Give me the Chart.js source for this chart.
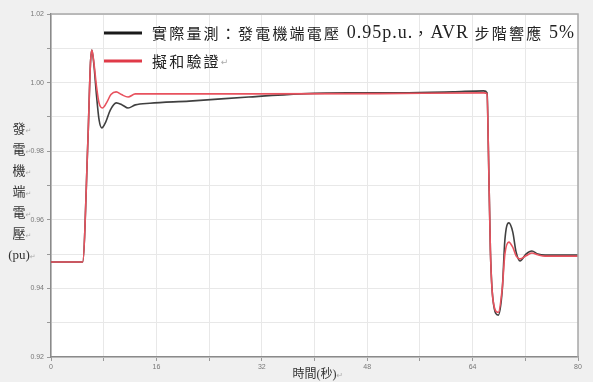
<!DOCTYPE html>
<html>
<head>
<meta charset="utf-8">
<script src="https://cdn.jsdelivr.net/npm/chart.js@4"></script>
<style>
  html, body { margin: 0; padding: 0; background: #f0f0f0; }
  #wrap { width: 593px; height: 382px; }
</style>
</head>
<body>
<div id="wrap"><canvas id="avrChart" width="593" height="382"></canvas></div>
<script>
// 實際量測 (black)
const measTime = [0, 4.8, 5.6, 6.0, 6.2, 6.5, 6.9, 7.3, 7.7, 8.3, 9.0, 9.9, 10.8, 11.7, 12.8, 15, 21, 30, 38, 45, 53, 61, 65.7, 66.2, 66.4, 66.7, 67.1, 67.9, 68.5, 68.9, 69.5, 70.1, 70.6, 71.2, 72.1, 73.0, 73.9, 75, 80];
const measVolt = [0.9477, 0.9477, 0.9830, 1.0060, 1.0095, 1.0055, 0.9964, 0.9891, 0.9868, 0.9885, 0.9920, 0.9941, 0.9935, 0.9926, 0.9935, 0.9940, 0.9946, 0.9958, 0.9967, 0.9970, 0.9970, 0.9973, 0.9976, 0.9970, 0.9803, 0.9512, 0.9366, 0.9322, 0.9395, 0.9541, 0.9591, 0.9564, 0.9506, 0.9480, 0.9500, 0.9509, 0.9500, 0.9497, 0.9497];

// 擬和驗證 (red)
const simTime = [0, 4.8, 5.6, 6.0, 6.2, 6.5, 6.9, 7.3, 7.8, 8.4, 9.1, 9.9, 10.7, 11.7, 12.8, 15, 30, 50, 65.7, 66.2, 66.4, 66.7, 67.1, 67.9, 68.5, 68.9, 69.5, 70.1, 70.6, 71.2, 72.1, 73.0, 73.9, 75, 80];
const simVolt = [0.9477, 0.9477, 0.9830, 1.0060, 1.0095, 1.0060, 0.9990, 0.9940, 0.9926, 0.9940, 0.9965, 0.9973, 0.9965, 0.9958, 0.9967, 0.9967, 0.9967, 0.9968, 0.9970, 0.9968, 0.9803, 0.9512, 0.9366, 0.9330, 0.9400, 0.9500, 0.9535, 0.9520, 0.9495, 0.9486, 0.9495, 0.9503, 0.9498, 0.9494, 0.9494];

const legendTexts = ['實際量測：發電機端電壓 0.95p.u.，AVR 步階響應 5%', '擬和驗證'];
const yTitleChars = ['發', '電', '機', '端', '電', '壓', '(pu)'];
const xTitle = '時間(秒)';

const toPoints = (xs, ys) => xs.map((x, i) => ({ x: x, y: ys[i] }));

// white plot area + grey frame
const plotBg = {
    id: 'plotBg',
    beforeDraw(chart) {
        const { ctx, chartArea: a } = chart;
        ctx.save();
        ctx.fillStyle = '#ffffff';
        ctx.fillRect(a.left, a.top, a.right - a.left, a.bottom - a.top);
        ctx.restore();
    },
    afterDraw(chart) {
        const { ctx, chartArea: a } = chart;
        ctx.save();
        ctx.strokeStyle = '#a8a8a8';
        ctx.lineWidth = 1.5;
        ctx.beginPath();
        ctx.moveTo(a.left, a.top);
        ctx.lineTo(a.right, a.top);
        ctx.lineTo(a.right, a.bottom);
        ctx.stroke();
        ctx.restore();
    }
};

// little Word return marks after a piece of text
function returnMark(ctx, x, y, size) {
    ctx.save();
    ctx.letterSpacing = '0px';
    ctx.textAlign = 'left';
    ctx.fillStyle = '#aaa';
    ctx.font = size + 'px "DejaVu Sans"';
    ctx.fillText('↵', x, y);
    ctx.restore();
}

// CJK runs spaced out, latin runs kept tight (like the Word original)
function drawMixed(ctx, text, x, y) {
    const runs = text.match(/[\u3000-\u9fff\uff00-\uffef]+|[^\u3000-\u9fff\uff00-\uffef]+/g);
    runs.forEach(run => {
        const cjk = /[\u3000-\u9fff\uff00-\uffef]/.test(run);
        ctx.font = cjk ? '15px "Noto Sans CJK TC"' : '18px "Liberation Serif"';
        ctx.letterSpacing = cjk ? '2.2px' : '1px';
        ctx.fillText(run, x, y);
        x += ctx.measureText(run).width;
    });
    ctx.letterSpacing = '0px';
    return x;
}

// legend inside the plot + stacked y title + x title
const overlay = {
    id: 'overlay',
    afterDraw(chart) {
        const ctx = chart.ctx;
        const a = chart.chartArea;
        ctx.save();
        const rows = [
            { y: 33, color: '#1a1a1a', text: legendTexts[0], mark: false },
            { y: 61, color: '#e03a48', text: legendTexts[1], mark: true }
        ];
        ctx.textBaseline = 'middle';
        rows.forEach(r => {
            ctx.strokeStyle = r.color;
            ctx.lineWidth = 3;
            ctx.beginPath();
            ctx.moveTo(104, r.y);
            ctx.lineTo(142, r.y);
            ctx.stroke();
            ctx.fillStyle = '#222';
            const end = drawMixed(ctx, r.text, 152, r.y);
            if (r.mark) returnMark(ctx, end, r.y + 2, 9);
        });

        ctx.textAlign = 'center';
        yTitleChars.forEach((c, i) => {
            const y = 130 + i * 21;
            ctx.fillStyle = '#333';
            ctx.font = '13px "Liberation Serif", "Noto Sans CJK TC"';
            ctx.fillText(c, 19, y);
            const w = ctx.measureText(c).width;
            returnMark(ctx, 19 + w / 2, y + 1, 7);
        });

        const cx = (a.left + a.right) / 2;
        ctx.fillStyle = '#333';
        ctx.font = '12px "Liberation Serif", "Noto Sans CJK TC"';
        ctx.fillText(xTitle, cx, 375);
        const tw = ctx.measureText(xTitle).width;
        returnMark(ctx, cx + tw / 2, 376, 8);
        ctx.restore();
    }
};

new Chart(document.getElementById('avrChart'), {
    type: 'line',
    data: {
        datasets: [
            {
                label: legendTexts[1],
                data: toPoints(simTime, simVolt),
                borderColor: '#e8525e',
                borderWidth: 1.6,
                pointRadius: 0,
                cubicInterpolationMode: 'monotone'
            },
            {
                label: legendTexts[0],
                data: toPoints(measTime, measVolt),
                borderColor: 'rgba(30, 30, 30, 0.85)',
                borderWidth: 1.6,
                pointRadius: 0,
                cubicInterpolationMode: 'monotone'
            }
        ]
    },
    options: {
        responsive: false,
        animation: false,
        layout: { padding: { left: 0, top: 14, right: 15, bottom: 0 } },
        plugins: {
            legend: { display: false },
            tooltip: { enabled: false }
        },
        scales: {
            x: {
                type: 'linear',
                min: 0,
                max: 80,
                afterFit: s => { s.height = 25; },
                grid: { color: '#e8e8e8', tickLength: 4, tickColor: '#999' },
                border: { color: '#8a8a8a', width: 1.5 },
                ticks: {
                    stepSize: 8,
                    padding: 2,
                    maxRotation: 0,
                    autoSkip: false,
                    color: '#777',
                    font: { family: 'Liberation Sans', size: 7 },
                    callback: v => (v % 16 === 0 ? String(v) : '')
                }
            },
            y: {
                min: 0.92,
                max: 1.02,
                afterFit: s => { s.width = 51; },
                grid: { color: '#e8e8e8', tickLength: 4, tickColor: '#999' },
                border: { color: '#8a8a8a', width: 1.5 },
                ticks: {
                    stepSize: 0.01,
                    padding: 3,
                    autoSkip: false,
                    color: '#777',
                    font: { family: 'Liberation Sans', size: 7 },
                    callback: v => {
                        const k = Math.round(v * 100);
                        return k % 2 === 0 ? (k / 100).toFixed(2) : '';
                    }
                }
            }
        }
    },
    plugins: [plotBg, overlay]
});
</script>
</body>
</html>
